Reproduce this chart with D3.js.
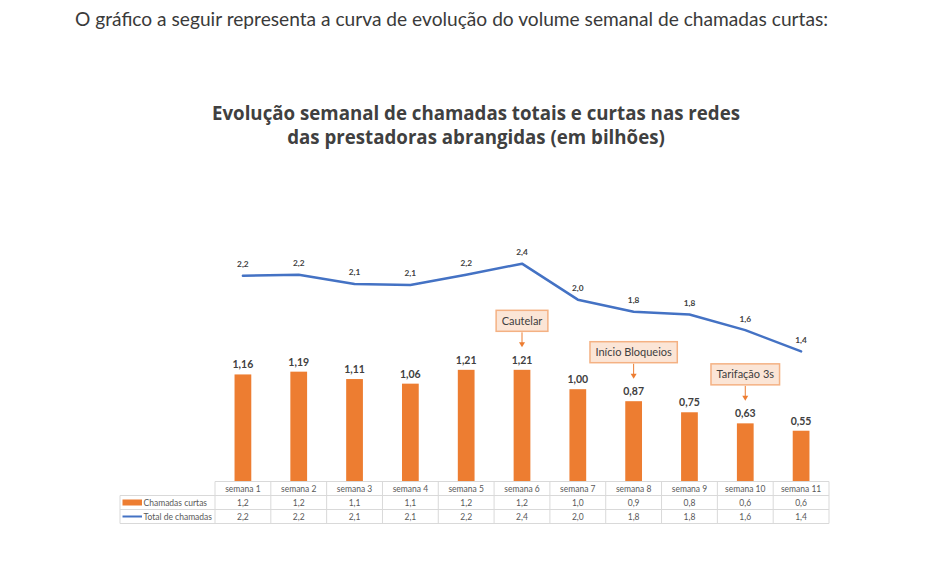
<!DOCTYPE html>
<html>
<head>
<meta charset="utf-8">
<script src="https://cdn.jsdelivr.net/npm/d3@7/dist/d3.min.js"></script>
<style>
  html, body { margin: 0; padding: 0; background: #ffffff; }
  svg { display: block; }
</style>
</head>
<body>
<svg id="chart" width="940" height="563"></svg>
<script>
// ---------------- DATA ----------------
const introText = "O gráfico a seguir representa a curva de evolução do volume semanal de chamadas curtas:";
const titleLines = [
  "Evolução semanal de chamadas totais e curtas nas redes",
  "das prestadoras abrangidas (em bilhões)"
];
const weeks = ["semana 1", "semana 2", "semana 3", "semana 4", "semana 5", "semana 6",
               "semana 7", "semana 8", "semana 9", "semana 10", "semana 11"];
const shortCalls = [1.16, 1.19, 1.11, 1.06, 1.21, 1.21, 1.00, 0.87, 0.75, 0.63, 0.55];
const totalCalls = [2.23, 2.24, 2.14, 2.13, 2.24, 2.36, 1.97, 1.84, 1.81, 1.64, 1.41];
const seriesNames = ["Chamadas curtas", "Total de chamadas"];
const annotationWeeks = ["semana 6", "semana 8", "semana 10"];
const annotationTexts = ["Cautelar", "Início Bloqueios", "Tarifação 3s"];

// ---------------- SETUP ----------------
const svg = d3.select("#chart");
const W = 940, H = 563;
svg.append("rect").attr("width", W).attr("height", H).attr("fill", "#ffffff");

const ORANGE = "#ED7D31", BLUE = "#4472C4", TXT = "#404040";
const locale = d3.formatLocale({decimal: ",", thousands: ".", grouping: [3], currency: ["", ""]});
const f2 = locale.format(".2f"), f1 = locale.format(".1f");

function fitWidth(sel, target) {
  const len = sel.node().getComputedTextLength();
  const fs = parseFloat(sel.attr("font-size"));
  sel.attr("font-size", (fs * target / len).toFixed(2));
}

// intro text
const intro = svg.append("text")
  .attr("x", 75).attr("y", 26)
  .attr("font-family", "Lato, 'Open Sans', sans-serif")
  .attr("font-size", 18).attr("fill", "#3a3a3a")
  .text(introText);
fitWidth(intro, 753);

// title
const titleSel = svg.append("g").selectAll("text").data(titleLines).join("text")
  .attr("x", 476).attr("y", (d, i) => 119.5 + i * 24)
  .attr("text-anchor", "middle")
  .attr("font-family", "'Open Sans', sans-serif")
  .attr("font-weight", 700)
  .attr("font-size", 19).attr("fill", TXT)
  .text(d => d);
fitWidth(d3.select(titleSel.nodes()[0]), 528);
d3.select(titleSel.nodes()[1]).attr("font-size", d3.select(titleSel.nodes()[0]).attr("font-size"));

// scales
const x = d3.scaleBand().domain(weeks).range([215, 829]).padding(0);
const bw = x.bandwidth();
const y = d3.scaleLinear().domain([0, 3]).range([481.5, 204.6]);
const cx = d => x(d) + bw / 2;

// bars
svg.append("g").selectAll("rect").data(weeks).join("rect")
  .attr("x", (d) => cx(d) - bw * 0.15)
  .attr("width", bw * 0.3)
  .attr("y", (d, i) => y(shortCalls[i]))
  .attr("height", (d, i) => y(0) - y(shortCalls[i]))
  .attr("fill", ORANGE);

// bar labels
svg.append("g").selectAll("text").data(weeks).join("text")
  .attr("x", d => cx(d))
  .attr("y", (d, i) => y(shortCalls[i]) - 6)
  .attr("text-anchor", "middle")
  .attr("font-family", "Lato, sans-serif").attr("font-weight", 700)
  .attr("font-size", 10.5).attr("fill", TXT)
  .text((d, i) => f2(shortCalls[i]));

// line
const line = d3.line().x((d, i) => cx(weeks[i])).y(d => y(d));
svg.append("path").datum(totalCalls)
  .attr("d", line).attr("fill", "none")
  .attr("stroke", BLUE).attr("stroke-width", 2.5)
  .attr("stroke-linejoin", "round").attr("stroke-linecap", "round");

// line labels
svg.append("g").selectAll("text").data(weeks).join("text")
  .attr("x", d => cx(d))
  .attr("y", (d, i) => y(totalCalls[i]) - 8.5)
  .attr("text-anchor", "middle")
  .attr("font-family", "Lato, sans-serif").attr("font-weight", 700)
  .attr("font-size", 8.3).attr("fill", TXT)
  .text((d, i) => f1(totalCalls[i]));

// annotations
const ann = svg.append("g");
annotationWeeks.forEach((wk, k) => {
  const i = weeks.indexOf(wk);
  const px = cx(wk);
  const tip = y(shortCalls[i]) - 22.5;
  const boxB = tip - 16;
  const g = ann.append("g");
  g.append("line").attr("x1", px).attr("x2", px).attr("y1", boxB + 1).attr("y2", tip - 4)
    .attr("stroke", ORANGE).attr("stroke-width", 1);
  g.append("path")
    .attr("d", `M${px - 3},${tip - 5}L${px + 3},${tip - 5}L${px},${tip}Z`)
    .attr("fill", ORANGE);
  const t = g.append("text")
    .attr("x", px).attr("y", boxB - 6.5)
    .attr("text-anchor", "middle")
    .attr("font-family", "Lato, sans-serif")
    .attr("font-size", 11).attr("fill", TXT)
    .text(annotationTexts[k]);
  const tw = t.node().getComputedTextLength();
  g.insert("rect", "text")
    .attr("x", px - tw / 2 - 5.5).attr("width", tw + 11)
    .attr("y", boxB - 21).attr("height", 21)
    .attr("fill", "#FBE5D6").attr("stroke", "#F4B183").attr("stroke-width", 1.5);
});

// ---------------- DATA TABLE ----------------
const tbl = svg.append("g");
const rowTop = 481.5, rowH = 14, tableLeft = 120, GRID = "#D9D9D9";
const rows = [shortCalls, totalCalls];
// horizontal lines
tbl.append("line").attr("x1", 215).attr("x2", 829).attr("y1", rowTop).attr("y2", rowTop)
  .attr("stroke", GRID).attr("stroke-width", 1);
[1, 2, 3].forEach(r => {
  tbl.append("line").attr("x1", tableLeft).attr("x2", 829)
    .attr("y1", rowTop + r * rowH).attr("y2", rowTop + r * rowH)
    .attr("stroke", GRID).attr("stroke-width", 1);
});
// vertical lines
tbl.append("line").attr("x1", tableLeft).attr("x2", tableLeft)
  .attr("y1", rowTop + rowH).attr("y2", rowTop + 3 * rowH).attr("stroke", GRID);
weeks.concat([null]).forEach((d, i) => {
  const xx = 215 + i * bw;
  tbl.append("line").attr("x1", xx).attr("x2", xx)
    .attr("y1", rowTop).attr("y2", rowTop + 3 * rowH).attr("stroke", GRID);
});
// header
tbl.selectAll("text.h").data(weeks).join("text").attr("class", "h")
  .attr("x", d => cx(d)).attr("y", rowTop + rowH / 2 + 3)
  .attr("text-anchor", "middle")
  .attr("font-family", "Lato, sans-serif").attr("font-size", 8.5).attr("fill", "#595959")
  .text(d => d);
// value rows
rows.forEach((vals, r) => {
  tbl.append("g").selectAll("text").data(weeks).join("text")
    .attr("x", d => cx(d)).attr("y", rowTop + rowH * (r + 1) + rowH / 2 + 3)
    .attr("text-anchor", "middle")
    .attr("font-family", "Lato, sans-serif").attr("font-size", 8.5).attr("fill", "#595959")
    .text((d, i) => f1(vals[i]));
});
// legend keys
tbl.append("rect").attr("x", 122.5).attr("width", 19.5)
  .attr("y", rowTop + rowH + rowH / 2 - 3).attr("height", 6).attr("fill", ORANGE);
tbl.append("line").attr("x1", 122.5).attr("x2", 142)
  .attr("y1", rowTop + 2 * rowH + rowH / 2).attr("y2", rowTop + 2 * rowH + rowH / 2)
  .attr("stroke", BLUE).attr("stroke-width", 2);
seriesNames.forEach((nm, r) => {
  tbl.append("text").attr("x", 143.5).attr("y", rowTop + rowH * (r + 1) + rowH / 2 + 3)
    .attr("font-family", "Lato, sans-serif").attr("font-size", 8.5).attr("fill", "#595959")
    .text(nm);
});
</script>
</body>
</html>
